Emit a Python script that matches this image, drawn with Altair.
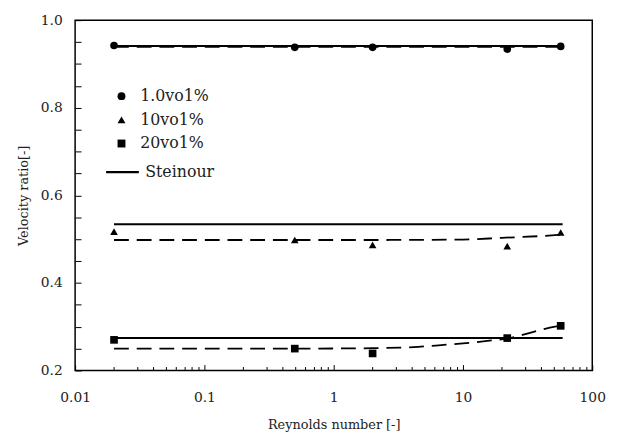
import altair as alt
import pandas as pd

# ---- data ----
series_names = ["1.0vo1%", "10vo1%", "20vo1%"]
reynolds = [0.02, 0.5, 2, 22, 57]
ratio_1 = [0.942, 0.938, 0.938, 0.934, 0.940]
ratio_10 = [0.517, 0.498, 0.487, 0.484, 0.515]
ratio_20 = [0.270, 0.250, 0.239, 0.274, 0.302]

steinour_name = "Steinour"
steinour_x = [0.02, 59]
steinour_1 = 0.941
steinour_10 = 0.534
steinour_20 = 0.274

fit1_x = [0.02, 58]
fit1_y = [0.939, 0.939]
fit10_x = [0.02, 0.5, 2, 10, 20, 40, 58]
fit10_y = [0.498, 0.498, 0.498, 0.499, 0.503, 0.507, 0.510]
fit20_x = [0.02, 0.5, 2, 4.5, 6.8, 10, 16, 22, 33, 47, 58]
fit20_y = [0.250, 0.250, 0.251, 0.254, 0.258, 0.262, 0.268, 0.273, 0.286, 0.298, 0.303]

y_labels = [0.2, 0.4, 0.6, 0.8, 1.0]
y_ticks = [round(0.2 + 0.05 * i, 2) for i in range(17)]
x_labels = [0.01, 0.1, 1, 10, 100]
x_ticks = [m * d for d in [0.01, 0.1, 1, 10] for m in range(1, 10)] + [100]

# ---- tables ----
pts = pd.DataFrame(
    [(x, y, s) for s, ys in zip(series_names, [ratio_1, ratio_10, ratio_20]) for x, y in zip(reynolds, ys)],
    columns=["Re", "ratio", "series"],
)
st = pd.DataFrame(
    [(x, v, s, steinour_name) for s, v in zip(series_names, [steinour_1, steinour_10, steinour_20])
     for x in steinour_x],
    columns=["Re", "ratio", "series", "model"],
)
fits = pd.DataFrame(
    [(x, y, s) for s, xs, ys in zip(series_names, [fit1_x, fit10_x, fit20_x], [fit1_y, fit10_y, fit20_y])
     for x, y in zip(xs, ys)],
    columns=["Re", "ratio", "series"],
)

W, H = 524, 355
FONT = "DejaVu Serif"
TXT = "#222"

xscale = alt.Scale(type="log", domain=[0.01, 100], nice=False)
yscale = alt.Scale(domain=[0.2, 1.0], nice=False, zero=False)

decade_test = "abs(log(datum.value)/LN10 - round(log(datum.value)/LN10)) < 0.001"

points = alt.Chart(pts).mark_point(filled=True, opacity=1, color="black", size=60).encode(
    x=alt.X("Re:Q", scale=xscale,
            axis=alt.Axis(values=x_labels, ticks=False, tickSize=0, domain=False, grid=False,
                          labelFont=FONT, labelFontSize=14, labelPadding=20, labelColor=TXT,
                          labelExpr="datum.value >= 1 ? format(datum.value, 'd') : format(datum.value, '.2~f')",
                          labelFlush=False, labelOverlap=False,
                          title="Reynolds number [-]", titleFont=FONT, titleFontSize=13,
                          titleFontWeight="normal", titleColor=TXT, titlePadding=15)),
    y=alt.Y("ratio:Q", scale=yscale,
            axis=alt.Axis(values=y_labels, ticks=False, tickSize=0, domain=False, grid=False,
                          labelFont=FONT, labelFontSize=14, labelPadding=13, labelColor=TXT,
                          format=".1f", labelFlush=False, labelOverlap=False,
                          title="Velocity ratio[-]", titleFont=FONT, titleFontSize=13,
                          titleFontWeight="normal", titleColor=TXT, titlePadding=10)),
    shape=alt.Shape("series:N", scale=alt.Scale(domain=series_names,
                                                range=["circle", "triangle-up", "square"]),
                    legend=alt.Legend(title=None, orient="none", legendX=39, legendY=69,
                                      labelFont=FONT, labelFontSize=16, labelColor=TXT,
                                      labelOffset=11, rowPadding=8, padding=0, symbolSize=64)),
)

steinour = alt.Chart(st).mark_line(strokeWidth=2).encode(
    x=alt.X("Re:Q", scale=xscale,
            axis=alt.Axis(orient="top", offset=-H, values=x_ticks, labels=False, title=None,
                          domain=False, grid=False, tickColor="black", tickWidth=1,
                          tickSize={"condition": {"test": decade_test, "value": 6}, "value": 4})),
    y=alt.Y("ratio:Q", scale=yscale,
            axis=alt.Axis(orient="right", offset=-W, values=y_ticks, labels=False, title=None,
                          domain=False, grid=False, tickColor="black", tickWidth=1, tickSize=6)),
    color=alt.Color("model:N", scale=alt.Scale(domain=[steinour_name], range=["black"]),
                    legend=alt.Legend(title=None, orient="none", legendX=30, legendY=136,
                                      labelFont=FONT, labelFontSize=16, labelColor=TXT,
                                      labelOffset=5, padding=0, symbolSize=1100,
                                      symbolStrokeWidth=2.2, symbolType="stroke")),
    detail="series:N",
)

fitted = alt.Chart(fits).mark_line(color="black", strokeWidth=1.8, strokeDash=[15, 8],
                                   interpolate="monotone").encode(
    x=alt.X("Re:Q", scale=xscale, axis=None),
    y=alt.Y("ratio:Q", scale=yscale, axis=None),
    detail="series:N",
)

chart = alt.layer(steinour, fitted, points).resolve_axis(x="independent", y="independent").properties(
    width=W, height=H,
    autosize=alt.AutoSizeParams(type="none"),
    padding={"left": 68, "top": 9.5, "right": 20, "bottom": 60},
    background="white",
).configure_view(stroke="black", strokeWidth=1.5)

chart.save("out.html", embed_options={"renderer": "svg", "actions": False})
